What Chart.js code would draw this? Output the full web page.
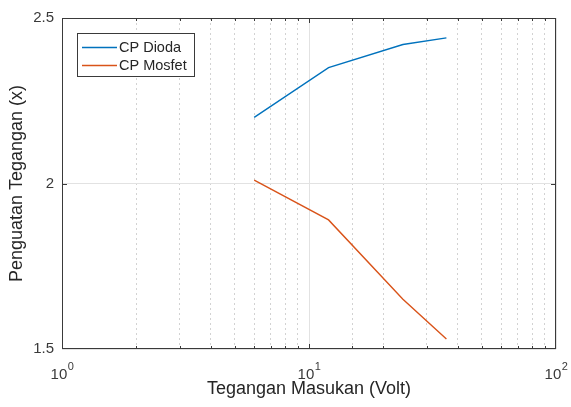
<!DOCTYPE html>
<html>
<head>
<meta charset="utf-8">
<script src="https://cdn.jsdelivr.net/npm/chart.js@4"></script>
<style>
  html, body { margin: 0; padding: 0; background: #fff; }
</style>
</head>
<body>
<canvas id="chart" width="571" height="407"></canvas>
<script>
// data
const voltages = [6, 12, 24, 36];
const dioda = [2.20, 2.35, 2.42, 2.44];
const mosfet = [2.01, 1.89, 1.65, 1.53];
const seriesNames = ['CP Dioda', 'CP Mosfet'];
const seriesColors = ['#0072BD', '#D95319'];
const yTicks = [1.5, 2, 2.5];
const xTitle = 'Tegangan Masukan (Volt)';
const yTitle = 'Penguatan Tegangan (x)';

const FONT = 'Liberation Sans, Arial, sans-serif';
const axisColor = '#3a3a3a';
const isDecade = (v) => Math.abs(Math.log10(v) - Math.round(Math.log10(v))) < 1e-9;

// frame, inward ticks, 10^n labels and legend, drawn the MATLAB way
const matlabBox = {
  id: 'matlabBox',
  afterDraw(chart) {
    const ctx = chart.ctx;
    const a = chart.chartArea;
    const xs = chart.scales.x, ys = chart.scales.y;
    ctx.save();
    ctx.strokeStyle = axisColor;
    ctx.lineWidth = 1;

    ctx.beginPath();
    xs.ticks.forEach(t => {
      if (t.value <= 1 || t.value >= 100) return;
      const px = Math.round(xs.getPixelForValue(t.value)) + 0.5;
      const len = isDecade(t.value) ? 5 : 3;
      ctx.moveTo(px, a.bottom); ctx.lineTo(px, a.bottom - len);
      ctx.moveTo(px, a.top); ctx.lineTo(px, a.top + len);
    });
    yTicks.forEach(v => {
      if (v <= 1.5 || v >= 2.5) return;
      const py = Math.round(ys.getPixelForValue(v)) + 0.5;
      ctx.moveTo(a.left, py); ctx.lineTo(a.left + 5, py);
      ctx.moveTo(a.right, py); ctx.lineTo(a.right - 5, py);
    });
    ctx.stroke();

    ctx.strokeRect(a.left + 0.5, a.top + 0.5, a.right - a.left - 1, a.bottom - a.top - 1);

    // x labels as 10 with a raised exponent
    ctx.fillStyle = axisColor;
    ctx.textBaseline = 'alphabetic';
    ctx.textAlign = 'left';
    xs.ticks.forEach(t => {
      if (!isDecade(t.value)) return;
      const exp = String(Math.round(Math.log10(t.value)));
      ctx.font = '15px ' + FONT;
      const wBase = ctx.measureText('10').width;
      ctx.font = '11px ' + FONT;
      const wExp = ctx.measureText(exp).width;
      const px = xs.getPixelForValue(t.value);
      const x0 = px - (wBase + wExp) / 2;
      ctx.font = '15px ' + FONT;
      ctx.fillText('10', x0, 379);
      ctx.font = '11px ' + FONT;
      ctx.fillText(exp, x0 + wBase + 0.5, 370);
    });

    // legend box in the top left corner
    const lx = 77, ly = 33, lw = 117, lh = 43;
    ctx.fillStyle = '#fff';
    ctx.fillRect(lx, ly, lw, lh);
    ctx.strokeStyle = axisColor;
    ctx.strokeRect(lx + 0.5, ly + 0.5, lw, lh);
    ctx.font = '14.5px ' + FONT;
    ctx.textBaseline = 'middle';
    chart.data.datasets.forEach((ds, i) => {
      const yy = ly + 14.5 + i * 18;
      ctx.strokeStyle = ds.borderColor;
      ctx.lineWidth = 1.4;
      ctx.beginPath();
      ctx.moveTo(lx + 5, yy); ctx.lineTo(lx + 40, yy);
      ctx.stroke();
      ctx.fillStyle = '#262626';
      ctx.fillText(ds.label, lx + 42, yy + 0.5);
    });
    ctx.restore();
  }
};

const toPoints = (ys) => voltages.map((v, i) => ({ x: v, y: ys[i] }));

new Chart(document.getElementById('chart'), {
  type: 'line',
  data: {
    datasets: [
      { label: seriesNames[0], data: toPoints(dioda), borderColor: seriesColors[0], borderWidth: 1.4, pointRadius: 0, tension: 0 },
      { label: seriesNames[1], data: toPoints(mosfet), borderColor: seriesColors[1], borderWidth: 1.4, pointRadius: 0, tension: 0 }
    ]
  },
  options: {
    responsive: false,
    animation: false,
    devicePixelRatio: 1,
    layout: { padding: { top: 18, right: 15, left: 0, bottom: 0 } },
    plugins: {
      legend: { display: false },
      tooltip: { enabled: false }
    },
    scales: {
      x: {
        type: 'logarithmic',
        min: 1,
        max: 100,
        afterFit: (s) => { s.height = 58; },
        ticks: { display: false, autoSkip: false },
        grid: {
          drawTicks: false,
          color: (c) => isDecade(c.tick.value) ? '#e2e2e2' : '#d2d2d2',
          lineWidth: 1
        },
        border: {
          display: false,
          dash: (c) => (c.tick && isDecade(c.tick.value)) ? [] : [2, 3]
        },
        title: {
          display: true,
          text: xTitle,
          color: '#262626',
          font: { family: FONT, size: 18 },
          padding: 7
        }
      },
      y: {
        min: 1.5,
        max: 2.5,
        afterFit: (s) => { s.width = 62; },
        afterBuildTicks: (s) => { s.ticks = yTicks.map(v => ({ value: v })); },
        ticks: {
          color: axisColor,
          padding: 8,
          font: { family: FONT, size: 15 },
          callback: (v) => String(v)
        },
        grid: { drawTicks: false, color: '#e2e2e2', lineWidth: 1 },
        border: { display: false },
        title: {
          display: true,
          text: yTitle,
          color: '#262626',
          font: { family: FONT, size: 18 },
          padding: 6
        }
      }
    }
  },
  plugins: [matlabBox]
});
</script>
</body>
</html>
